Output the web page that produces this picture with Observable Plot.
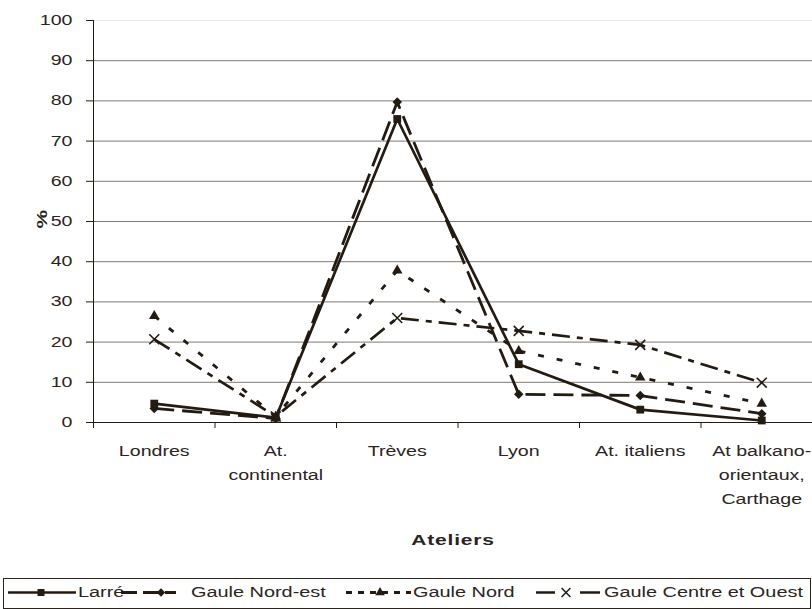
<!DOCTYPE html>
<html>
<head>
<meta charset="utf-8">
<script src="https://cdn.jsdelivr.net/npm/d3@7"></script>
<script src="https://cdn.jsdelivr.net/npm/@observablehq/plot@0.6"></script>
<style>
  html, body { margin: 0; padding: 0; background: white; overflow: hidden; }
  #chart { width: 812px; height: 560px; }
  #legend { position: relative; margin-left: 3px; margin-top: 18px; width: 806px; height: 29px;
            border: 1px solid #2a241d; font-family: "Liberation Sans", Arial, sans-serif; font-size: 14px; color: #2a241d; }
  #legend .lab { position: absolute; top: 0; line-height: 27px; white-space: nowrap; transform: scaleX(1.42); transform-origin: left center; }
  #legend svg { position: absolute; left: 0; top: 0; }
</style>
</head>
<body>
<div id="chart"></div>
<div id="legend"></div>
<script>
// ---- data ----
const categories = ["Londres", "At.\ncontinental", "Trèves", "Lyon", "At. italiens", "At balkano-\norientaux,\nCarthage"];
const larre     = [4.7, 1.2, 75.5, 14.5, 3.2, 0.5];
const nordEst   = [3.5, 1.0, 79.7, 7.0, 6.7, 2.2];
const nord      = [26.5, 1.5, 37.8, 17.8, 11.2, 4.7];
const centre    = [20.7, 1.5, 26.0, 22.8, 19.3, 9.9];
const seriesNames = ["Larré", "Gaule Nord-est", "Gaule Nord", "Gaule Centre et Ouest"];
const yTicks = [0, 10, 20, 30, 40, 50, 60, 70, 80, 90, 100];
const yLabel = "%";
const xLabel = "Ateliers";

const ink = "#231b12";
const styles = [
  {dash: null,        symbol: "square",   r: 4.4, rotate: 0,  fill: ink,   stroke: null, sw: 2.7, legendDash: null},
  {dash: "20,8",      symbol: "square",   r: 3.8, rotate: 45, fill: ink,   stroke: null, sw: 2.8, legendDash: "16,6"},
  {dash: "6,13",      symbol: "triangle", r: 3.9, rotate: 0,  fill: ink,   stroke: null, sw: 2.8, legendDash: "6,6"},
  {dash: "18,7,6,7",  symbol: "times",    r: 4.6, rotate: 0,  fill: "none", stroke: ink, sw: 2.7, legendDash: "19,25,20"}
];
const allValues = [larre, nordEst, nord, centre];
const table = allValues.map((vals, s) => vals.map((v, i) => ({series: seriesNames[s], i, value: v})));

const seriesMarks = [];
table.forEach((rows, s) => {
  const st = styles[s];
  seriesMarks.push(Plot.line(rows, {x: "i", y: "value", stroke: ink, strokeWidth: st.sw,
    strokeDasharray: st.dash || undefined, strokeLinejoin: "miter", strokeLinecap: "butt"}));
});
table.forEach((rows, s) => {
  const st = styles[s];
  seriesMarks.push(Plot.dot(rows, {x: "i", y: "value", symbol: st.symbol, r: st.r, rotate: st.rotate,
    fill: st.fill, stroke: st.stroke || "none", strokeWidth: 1.6}));
});

const chart = Plot.plot({
  width: 812, height: 560,
  marginLeft: 93, marginRight: 0, marginTop: 20, marginBottom: 138,
  style: {fontFamily: "'Liberation Sans', Arial, sans-serif", fontSize: "14px", color: "#2a241d", background: "white", overflow: "visible"},
  x: {type: "linear", domain: [-0.5, categories.length - 0.5], range: [93, 822], axis: null},
  y: {domain: [0, 100], axis: null},
  marks: [
    Plot.gridY(yTicks.filter(d => d > 0 && d < 100), {stroke: "#7f7b76", strokeOpacity: 1}),
    Plot.ruleY([100], {stroke: "#e6e6e6"}),
    Plot.axisY({ticks: yTicks, tickSize: 7, tickPadding: 14, label: null, stroke: ink, fontSize: 14}),
    Plot.axisX({ticks: d3.range(-0.5, categories.length, 1), tickSize: 6, tickFormat: () => "", label: null, stroke: ink}),
    Plot.axisX({ticks: d3.range(categories.length), tickSize: 0, tickPadding: 16, tickFormat: i => categories[i],
      lineHeight: 1.72, label: null, fontSize: 14}),
    Plot.ruleY([0], {stroke: ink}),
    Plot.ruleX([-0.5], {stroke: ink}),
    ...seriesMarks,
    Plot.text([xLabel], {frameAnchor: "bottom", dy: 122, fontWeight: "bold", fontSize: 15, fill: "#2a241d"}),
    Plot.text([yLabel], {frameAnchor: "left", dx: -51, dy: 7, rotate: -90, fontWeight: "bold", fontSize: 15, fill: "#2a241d"})
  ]
});
// horizontal stretch of the reference's text
chart.querySelectorAll("text").forEach(t => {
  const tr = t.getAttribute("transform") || "";
  if (tr.includes("translate")) t.setAttribute("transform", tr + " scale(1.4,1)");
  if (t.textContent === xLabel) t.setAttribute("letter-spacing", "0.6");
});
document.getElementById("chart").appendChild(chart);

// ---- legend ----
const legend = document.getElementById("legend");
const lx = [ [4, 72, 37, 74], [117, 172, 157, 187], [342, 407, 376, 409], [532, 596, 562, 600] ]; // sample start, end, marker, label left
const ns = "http://www.w3.org/2000/svg";
const lsvg = document.createElementNS(ns, "svg");
lsvg.setAttribute("width", 806); lsvg.setAttribute("height", 29);
const cy = 13.5;
seriesNames.forEach((name, s) => {
  const st = styles[s], [a, b, m, l] = lx[s];
  const ln = document.createElementNS(ns, "line");
  ln.setAttribute("x1", a); ln.setAttribute("x2", b); ln.setAttribute("y1", cy); ln.setAttribute("y2", cy);
  ln.setAttribute("stroke", ink); ln.setAttribute("stroke-width", st.sw);
  if (st.legendDash) ln.setAttribute("stroke-dasharray", st.legendDash);
  lsvg.appendChild(ln);
  const sym = {square: d3.symbolSquare, triangle: d3.symbolTriangle, times: d3.symbolTimes}[st.symbol];
  const p = document.createElementNS(ns, "path");
  p.setAttribute("d", d3.symbol(sym, Math.PI * st.r * st.r * 0.8)());
  p.setAttribute("transform", `translate(${m},${cy}) rotate(${st.rotate})`);
  p.setAttribute("fill", st.fill); p.setAttribute("stroke", st.stroke || "none"); p.setAttribute("stroke-width", 1.5);
  lsvg.appendChild(p);
  const span = document.createElement("span");
  span.className = "lab"; span.style.left = l + "px"; span.textContent = name;
  legend.appendChild(span);
});
legend.appendChild(lsvg);
</script>
</body>
</html>
